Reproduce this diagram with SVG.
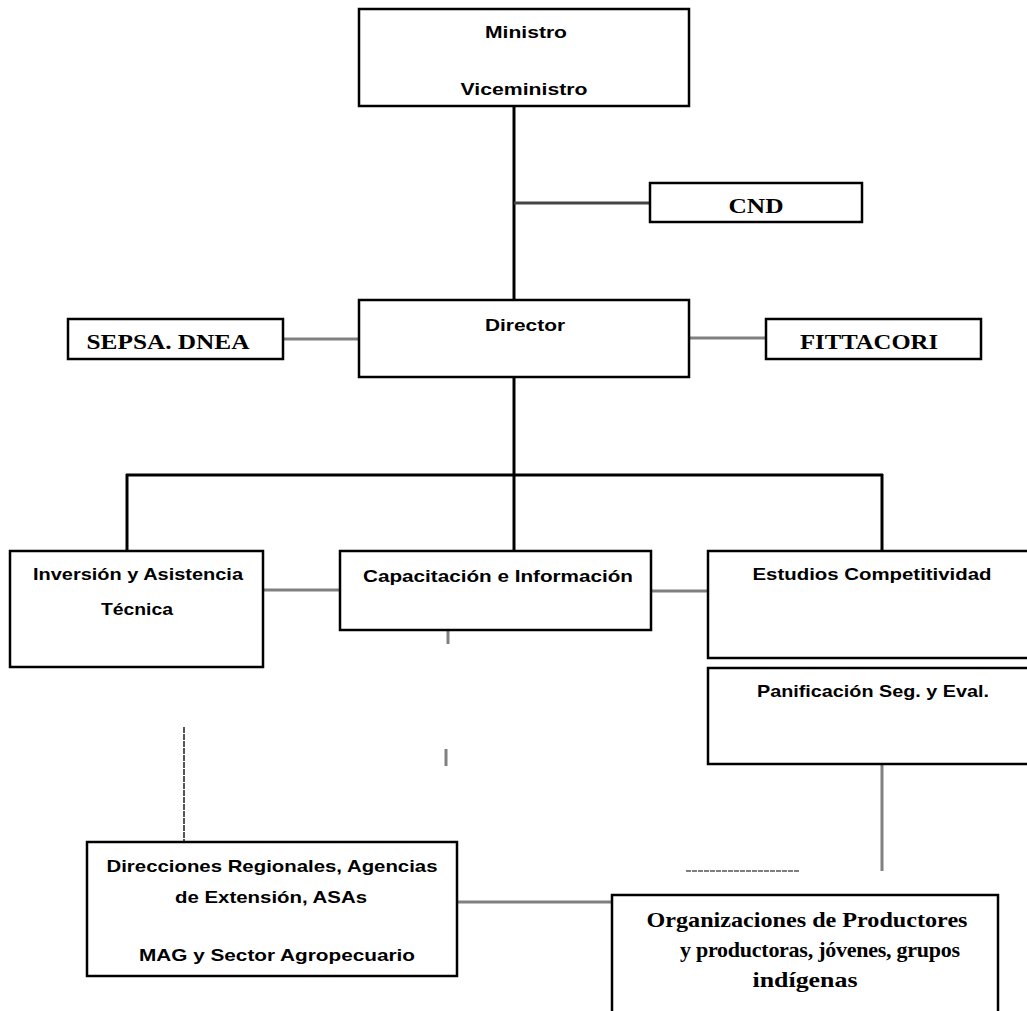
<svg xmlns="http://www.w3.org/2000/svg" width="1027" height="1011" viewBox="0 0 1027 1011">
<style>
.box{fill:#fff;stroke:#000;stroke-width:2.5}
.t{font-family:"Liberation Sans",Arial,sans-serif;font-weight:bold;font-size:17px;fill:#000;text-anchor:middle}
.s{font-family:"Liberation Serif","Times New Roman",serif;font-size:22px;fill:#000;text-anchor:middle;font-weight:bold}
.o{font-family:"Liberation Serif","Times New Roman",serif;font-size:22px;fill:#000;text-anchor:middle;font-weight:bold}
.blk{stroke:#000;stroke-width:3;fill:none}
.gry{stroke:#808080;stroke-width:3;fill:none}
</style>
<rect width="1027" height="1011" fill="#fff"/>
<g id="connectors">
<line class="blk" x1="514" y1="106" x2="514" y2="300"/>
<line x1="514" y1="203" x2="650" y2="203" stroke="#444" stroke-width="3"/>
<line class="gry" x1="283" y1="339" x2="359" y2="339" stroke-width="2"/>
<line class="gry" x1="689" y1="338" x2="766" y2="338" stroke-width="2"/>
<line class="blk" x1="514" y1="377" x2="514" y2="475"/>
<line class="blk" x1="126" y1="475" x2="883" y2="475"/>
<line class="blk" x1="127" y1="474" x2="127" y2="551"/>
<line class="blk" x1="514" y1="474" x2="514" y2="551"/>
<line class="blk" x1="882" y1="474" x2="882" y2="551"/>
<line class="gry" x1="263" y1="590" x2="340" y2="590"/>
<line class="gry" x1="651" y1="591" x2="708" y2="591"/>
<line class="gry" x1="448" y1="625" x2="448" y2="644"/>
<line class="gry" x1="446" y1="749" x2="446" y2="766" stroke-width="2"/>
<line x1="184" y1="727" x2="184" y2="855" stroke="#555" stroke-width="2" stroke-dasharray="6 1"/>
<line class="gry" x1="882" y1="764" x2="882" y2="871"/>
<line x1="686" y1="871" x2="799" y2="871" stroke="#555" stroke-width="1.5" stroke-dasharray="5 1"/>
<line class="gry" x1="457" y1="902" x2="612" y2="902"/>
</g>
<g id="ministro">
<rect class="box" x="359" y="9" width="330" height="97"/>
<text class="t" x="526" y="38" textLength="82" lengthAdjust="spacingAndGlyphs">Ministro</text>
<text class="t" x="524" y="95" textLength="127" lengthAdjust="spacingAndGlyphs">Viceministro</text>
</g>
<g id="cnd">
<rect class="box" x="650" y="183" width="212" height="39"/>
<text class="s" x="756" y="213" textLength="55" lengthAdjust="spacingAndGlyphs">CND</text>
</g>
<g id="director">
<rect class="box" x="359" y="300" width="330" height="77"/>
<text class="t" x="525" y="331" textLength="80" lengthAdjust="spacingAndGlyphs">Director</text>
</g>
<g id="sepsa">
<rect class="box" x="68" y="319" width="215" height="40"/>
<text class="s" x="168" y="349" textLength="163" lengthAdjust="spacingAndGlyphs">SEPSA. DNEA</text>
</g>
<g id="fittacori">
<rect class="box" x="766" y="319" width="215" height="40"/>
<text class="s" x="869" y="349" textLength="138" lengthAdjust="spacingAndGlyphs">FITTACORI</text>
</g>
<g id="inversion">
<rect class="box" x="10" y="551" width="253" height="116"/>
<text class="t" x="138" y="580" textLength="210" lengthAdjust="spacingAndGlyphs">Inversión y Asistencia</text>
<text class="t" x="137" y="615" textLength="72" lengthAdjust="spacingAndGlyphs">Técnica</text>
</g>
<g id="capacitacion">
<rect class="box" x="340" y="551" width="311" height="79"/>
<text class="t" x="498" y="582" textLength="270" lengthAdjust="spacingAndGlyphs">Capacitación e Información</text>
</g>
<g id="estudios">
<rect class="box" x="708" y="551" width="330" height="107"/>
<text class="t" x="872" y="580" textLength="239" lengthAdjust="spacingAndGlyphs">Estudios Competitividad</text>
</g>
<g id="panificacion">
<rect class="box" x="708" y="668" width="330" height="96"/>
<text class="t" x="873" y="697" textLength="232" lengthAdjust="spacingAndGlyphs">Panificación Seg. y Eval.</text>
</g>
<g id="direcciones">
<rect class="box" x="87" y="842" width="370" height="134"/>
<text class="t" x="272" y="872" textLength="331" lengthAdjust="spacingAndGlyphs">Direcciones  Regionales, Agencias</text>
<text class="t" x="271" y="903" textLength="192" lengthAdjust="spacingAndGlyphs">de Extensión, ASAs</text>
<text class="t" x="277" y="961" textLength="276" lengthAdjust="spacingAndGlyphs">MAG y Sector Agropecuario</text>
</g>
<g id="organizaciones">
<rect class="box" x="612" y="895" width="386" height="130"/>
<text class="o" x="807" y="927" textLength="321" lengthAdjust="spacingAndGlyphs">Organizaciones de Productores</text>
<text class="o" x="820" y="957" textLength="280" lengthAdjust="spacing">y productoras, jóvenes, grupos</text>
<text class="o" x="805" y="987" textLength="105" lengthAdjust="spacingAndGlyphs">indígenas</text>
</g>
</svg>
